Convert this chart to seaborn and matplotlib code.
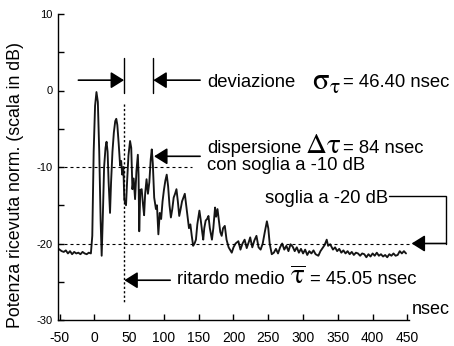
import matplotlib
matplotlib.use("Agg")
import matplotlib.pyplot as plt
import pandas as pd
import seaborn as sns

# ---------------- data ----------------
delay_ns = [-53, -50, -47, -44, -41, -38, -35, -32, -29, -26, -23, -20, -17, -14, -11, -8, -5,
            -3, -1, 1, 3, 5, 7, 9, 10.5, 12, 14, 16, 17.5, 19, 20.5, 22.5, 24, 26, 28, 30, 31.5,
            33, 35, 37, 38.5, 40, 41.7, 43, 45.5, 47, 49, 51.3, 53, 54.7, 56.5, 58.5, 60.5, 62.5,
            63.5, 64.5, 66, 68, 70, 71.5, 73, 75, 77, 79, 81, 82.5, 84, 86, 88.5, 90, 92, 94, 96,
            98, 100, 102, 104, 106, 108, 110, 112, 114, 116, 118, 120, 122, 124, 126, 128, 130,
            132, 134, 136, 138, 140, 142, 144, 146, 148, 151, 153, 155, 156.5, 158, 160, 162,
            164, 166, 169, 171, 173.5, 175, 177, 179, 181, 183, 185, 187.5, 190, 193, 197.5,
            200, 203, 207, 210, 213, 216, 219, 222, 224, 227, 230, 233, 236, 239, 242, 245, 248,
            250, 252, 255, 258, 261, 264, 267, 270, 273, 276, 279, 282, 285, 288, 291, 294, 297,
            300, 303, 306, 309, 312, 315, 318, 322, 325, 328, 331, 334, 336, 339, 343, 346, 349,
            352, 355, 358, 361, 364, 367, 370, 373, 376, 379, 382, 385, 388, 391, 394, 397, 400,
            403, 406, 409, 412, 415, 418, 421, 424, 427, 430, 433, 436, 439, 442, 445, 448]
power_db = [-20.6, -20.8, -21.0, -21.1, -20.9, -21.3, -21.0, -21.4, -21.1, -21.3, -21.2, -21.4,
            -21.1, -21.3, -21.4, -21.2, -21.3,
            -19.0, -8.0, -2.0, -0.2, -1.5, -8.0, -17.0, -21.6, -17.0, -10.0, -7.5, -6.7, -8.0,
            -12.0, -16.0, -12.0, -8.0, -5.5, -4.0, -3.7, -4.5, -7.0, -9.8, -9.2, -11.0, -10.0,
            -14.3, -15.0, -12.0, -8.5, -6.6, -7.5, -12.9, -11.5, -14.2, -10.5, -8.4,
            -11.0, -18.4, -13.0, -12.9, -15.0, -16.3, -13.5, -11.6, -13.5, -12.0, -9.0, -7.7,
            -9.5, -14.0, -15.5, -15.0, -18.8, -16.0, -16.8, -14.5, -13.0, -11.8, -11.0, -12.5,
            -15.0, -16.6, -15.5, -14.0, -13.5, -12.9, -14.5, -16.4, -15.5, -14.5, -14.0, -13.5,
            -15.0, -16.5, -18.0, -17.5, -19.0, -20.3, -20.0, -19.5, -17.5, -15.7, -17.0, -18.5,
            -19.5, -18.0, -17.0, -16.8, -16.4, -18.0, -19.5, -18.0, -15.3, -16.5, -15.5, -17.0,
            -18.5, -19.0, -18.0, -17.7, -19.5, -20.5, -21.2, -20.5, -20.0, -19.7, -20.8, -20.0,
            -19.5, -20.6, -19.8, -19.2, -20.5, -19.6, -19.0, -20.5, -20.8, -20.0, -18.5, -17.1,
            -18.0, -20.0, -21.4, -21.2, -20.7, -21.3, -20.5, -20.0, -20.8, -20.3, -21.0, -20.1,
            -20.4, -21.0, -20.5, -21.2, -20.7, -21.3, -20.8, -21.5, -21.0, -21.3, -20.9, -21.4,
            -21.6, -21.0, -20.6, -20.2, -19.5, -20.3, -20.1, -20.8, -20.5, -21.0, -20.7, -21.2,
            -20.9, -21.3, -21.0, -21.4, -21.1, -21.5, -21.2, -21.3, -21.6, -21.3, -21.4, -21.8,
            -21.4, -21.7, -21.3, -21.6, -21.2, -21.6, -21.4, -21.7, -21.5, -21.8, -21.4, -21.6,
            -21.3, -21.6, -21.5, -21.0, -21.3, -21.0, -21.3]

x_ticks = [-50, 0, 50, 100, 150, 200, 250, 300, 350, 400, 450]
y_ticks = [-30, -20, -10, 0, 10]
y_minor_ticks = [-25, -15, -5, 5]

threshold_10 = -10
threshold_20 = -20
mean_delay_pos = 42.0      # position of the dotted mean-delay marker
dev_left, dev_right = 42.7, 84.8
disp_peak = 85.8

# ---------------- figure ----------------
sns.set_theme(style="ticks")
plt.rcParams["font.family"] = ["Liberation Sans", "DejaVu Sans"]
plt.rcParams["mathtext.fontset"] = "stix"

fig = plt.figure(figsize=(4.54, 3.46), dpi=100)
ax = fig.add_axes([57.5 / 454, 26 / 346, 351.3 / 454, 306 / 346])

df = pd.DataFrame({"delay": delay_ns, "power": power_db})
sns.lineplot(data=df, x="delay", y="power", ax=ax, sort=False, estimator=None,
             color="#151515", linewidth=1.35)

ax.set_xlim(-53, 452)
ax.set_ylim(-30, 10)
ax.set_xticks(x_ticks)
ax.set_xticklabels([str(v) for v in x_ticks])
ax.set_yticks(y_ticks)
ax.set_yticklabels([str(v) for v in y_ticks])
ax.set_yticks(y_minor_ticks, minor=True)
ax.set_xlabel("")
ax.set_ylabel("Potenza ricevuta norm. (scala in dB)", fontsize=12.8, color="black")
ax.yaxis.set_label_coords((24 - 57.5) / 351.3, (320 - 185.5) / 306)

for s in ["top", "right"]:
    ax.spines[s].set_visible(False)
for s in ["left", "bottom"]:
    ax.spines[s].set_linewidth(1.0)
    ax.spines[s].set_color("black")

ax.tick_params(axis="x", direction="in", length=4, width=1, labelsize=10, pad=8,
               colors="black")
ax.tick_params(axis="y", which="both", direction="in", length=4, width=1, labelsize=8,
               pad=3.5, colors="black")

# ---------------- annotations ----------------
dash_kw = dict(color="black", lw=0.8, dashes=(2.7, 2.7), clip_on=False)
ax.plot([-53, 140], [threshold_10, threshold_10], **dash_kw)
ax.plot([-53, 456], [threshold_20, threshold_20], **dash_kw)
ax.plot([mean_delay_pos, mean_delay_pos], [-1.7, -27.9], color="black", lw=1.0,
        dashes=(1.6, 1.6), clip_on=False)

# deviation bars and arrows
ax.plot([dev_left, dev_left], [-0.3, 4.2], color="black", lw=1.0, clip_on=False)
ax.plot([dev_right, dev_right], [-0.3, 4.2], color="black", lw=1.0, clip_on=False)

arrow_kw = dict(arrowstyle="-|>,head_length=0.8,head_width=0.5", color="black", lw=1.2,
                shrinkA=0, shrinkB=0, mutation_scale=10)
ax.annotate("", xy=(dev_left, 1.35), xytext=(-23, 1.35), arrowprops=arrow_kw,
            annotation_clip=False)
ax.annotate("", xy=(dev_right, 1.35), xytext=(152, 1.35), arrowprops=arrow_kw,
            annotation_clip=False)
ax.annotate("", xy=(disp_peak, -8.6), xytext=(152, -8.6), arrowprops=arrow_kw,
            annotation_clip=False)
ax.annotate("", xy=(43.1, -24.8), xytext=(109, -24.8), arrowprops=arrow_kw,
            annotation_clip=False)

# bracket for the -20 dB threshold
ax.plot([423.5, 505.4, 505.4], [-13.8, -13.8, -20.0], color="black", lw=1.0,
        clip_on=False, solid_joinstyle="miter")
ax.annotate("", xy=(456, -20.0), xytext=(505.9, -20.0), arrowprops=arrow_kw,
            annotation_clip=False)

txt = dict(fontsize=13.3, color="black", va="baseline", ha="left", clip_on=False)
ax.text(162, 0.48, "deviazione", **txt)
ax.text(313, 0.13, r"$\mathrm{\sigma}_{\mathrm{\tau}}$", fontsize=22, color="black",
        va="baseline", ha="left")
ax.text(357.9, 0.48, "= 46.40 nsec", **txt)

ax.text(162.3, -8.14, "dispersione", **txt)
ax.text(303, -8.2, r"$\mathrm{\Delta\tau}$", fontsize=21, color="black", va="baseline",
        ha="left")
ax.text(357.9, -8.14, "= 84 nsec", **txt)
ax.text(162.3, -10.35, "con soglia a -10 dB", **txt)

ax.text(245.3, -14.66, "soglia a -20 dB", **txt)

ax.text(118.4, -25.3, "ritardo medio", **txt)
ax.text(281, -25.3, r"$\overline{\mathrm{\tau}}$", fontsize=21, color="black",
        va="baseline", ha="left")
ax.text(310, -25.3, "= 45.05 nsec", **txt)

ax.text(456, -29.2, "nsec", fontsize=13, color="black", va="baseline", ha="left",
        clip_on=False)

fig.savefig("out.png", dpi=100)
